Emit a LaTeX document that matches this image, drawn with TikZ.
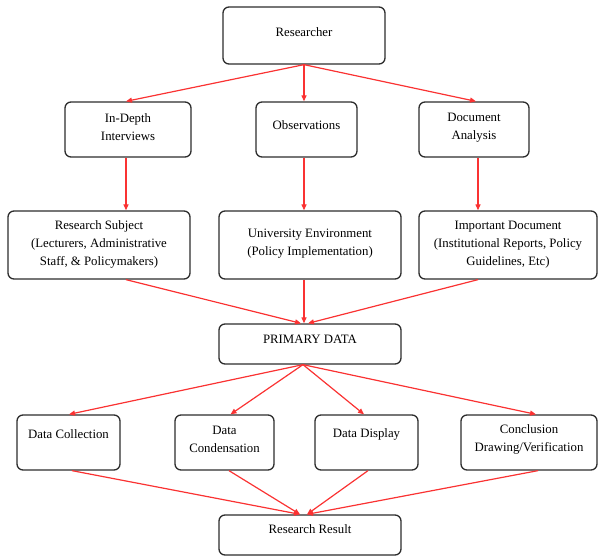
\documentclass[tikz,border=0pt]{standalone}
\usepackage{fontspec}
\setmainfont{Liberation Serif}
\usetikzlibrary{arrows.meta,calc}
\definecolor{arr}{RGB}{250,50,50}
\definecolor{edge}{RGB}{45,45,45}
\begin{document}
\begin{tikzpicture}[x=1pt,y=-1pt,
  box/.style={draw=edge,line width=1.3pt,rounded corners=6pt,inner sep=0pt},
  txt/.style={align=center,inner sep=0pt,font=\fontsize{12.8}{18}\selectfont,text=black},
  con/.style={draw=arr,line width=1.2pt,-{Triangle[length=6pt,width=5pt]}}]
\useasboundingbox (0,0) rectangle (598,556);
% level 1
\node[box,minimum width=162pt,minimum height=57pt] (r) at (304,35.5) {};
\node[txt] (rt) at (304,32) {Researcher};
% level 2
\node[box,minimum width=126pt,minimum height=55pt] (id) at (128,129.5) {};
\node[txt] (idt) at (128,127.5) {In-Depth\\Interviews};
\node[box,minimum width=101pt,minimum height=55pt] (ob) at (306.5,129.5) {};
\node[txt] (obt) at (306.5,125) {Observations};
\node[box,minimum width=110pt,minimum height=55pt] (da) at (474,129.5) {};
\node[txt] (dat) at (474,127.5) {Document\\Analysis};
% level 3
\node[box,minimum width=182pt,minimum height=68pt] (rs) at (99,245) {};
\node[txt] (rst) at (99,244.5) {Research Subject\\(Lecturers, Administrative\\Staff, \& Policymakers)};
\node[box,minimum width=182pt,minimum height=68pt] (ue) at (310,245) {};
\node[txt] (uet) at (310,244) {University Environment\\(Policy Implementation)};
\node[box,minimum width=178pt,minimum height=68pt] (imp) at (508,245) {};
\node[txt] (impt) at (508,244.5) {Important Document\\(Institutional Reports, Policy\\Guidelines, Etc)};
% primary data
\node[box,minimum width=182pt,minimum height=40pt] (pd) at (310,344) {};
\node[txt] (pdt) at (310,339) {PRIMARY DATA};
% level 4
\node[box,minimum width=103pt,minimum height=55pt] (dc) at (68.5,442.5) {};
\node[txt] (dct) at (68.5,434) {Data Collection};
\node[box,minimum width=99pt,minimum height=55pt] (dcd) at (224.5,442.5) {};
\node[txt] (dcdt) at (224.5,439) {Data\\Condensation};
\node[box,minimum width=103pt,minimum height=55pt] (dd) at (366.5,442.5) {};
\node[txt] (ddt) at (366.5,434) {Data Display};
\node[box,minimum width=136pt,minimum height=55pt] (cd) at (529,442.5) {};
\node[txt] (cdt) at (529,439) {Conclusion\\Drawing/Verification};
% result
\node[box,minimum width=182pt,minimum height=40pt] (rr) at (310,535) {};
\node[txt] (rrt) at (310,529) {Research Result};
% column coordinates
\coordinate (c1) at ($(id.south)+(-2,0)$);
\coordinate (c2) at ($(ob.south)+(-2.5,0)$);
\coordinate (c3) at ($(da.south)+(4,0)$);
% connectors level1 -> level2
\draw[con] (r.south) -- ($(id.north)+(-2,0)$);
\draw[con] (r.south) -- ($(ob.north)+(-2.5,0)$);
\draw[con] (r.south) -- ($(da.north)+(2,0)$);
% level2 -> level3
\draw[con] (c1) -- (c1 |- rs.north);
\draw[con] (c2) -- (c2 |- ue.north);
\draw[con] (c3) -- (c3 |- imp.north);
% level3 -> primary
\draw[con] (c1 |- rs.south) -- ($(pd.north)+(-9,0)$);
\draw[con] (c2 |- ue.south) -- ($(pd.north)+(-6,0)$);
\draw[con] (c3 |- imp.south) -- ($(pd.north)+(-2,0)$);
% primary -> level4
\draw[con] ($(pd.south)+(-7,0)$) -- ($(dc.north)+(0.5,0)$);
\draw[con] ($(pd.south)+(-7,0)$) -- ($(dcd.north)+(6,0)$);
\draw[con] ($(pd.south)+(-7,0)$) -- ($(dd.north)+(-2.5,0)$);
\draw[con] ($(pd.south)+(-7,0)$) -- ($(cd.north)+(7,0)$);
% level4 -> result
\draw[con] ($(dc.south)+(3.5,0)$) -- ($(rr.north)+(-10,0)$);
\draw[con] ($(dcd.south)+(4.5,0)$) -- ($(rr.north)+(-10,0)$);
\draw[con] ($(dd.south)+(1.5,0)$) -- ($(rr.north)+(-3,0)$);
\draw[con] ($(cd.south)+(9,0)$) -- ($(rr.north)+(-3,0)$);
\end{tikzpicture}
\end{document}
